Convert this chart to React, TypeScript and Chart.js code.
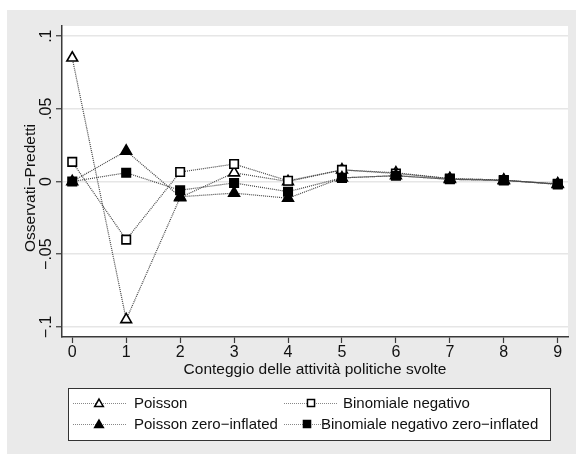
import React, { useEffect, useRef } from 'react';
import { Chart, registerables } from 'chart.js';

Chart.register(...registerables);

const counts = [0, 1, 2, 3, 4, 5, 6, 7, 8, 9];
const poisson = [0.085, -0.095, -0.011, 0.006, 0.0, 0.008, 0.006, 0.002, 0.001, -0.002];
const binNeg = [0.0135, -0.04, 0.0065, 0.012, 0.0005, 0.008, 0.0055, 0.002, 0.001, -0.002];
const poissonZI = [0.0, 0.021, -0.0105, -0.008, -0.0115, 0.0025, 0.004, 0.0015, 0.0007, -0.0016];
const binNegZI = [0.0, 0.006, -0.006, -0.001, -0.007, 0.0025, 0.004, 0.0015, 0.0007, -0.0016];

const seriesNames = ['Poisson', 'Binomiale negativo', 'Poisson zero\u2212inflated', 'Binomiale negativo zero\u2212inflated'];
const yTickValues = [-0.1, -0.05, 0, 0.05, 0.1];
const yTickLabels = ['\u2212.1', '\u2212.05', '0', '.05', '.1'];
const xTitle = 'Conteggio delle attivit\u00e0 politiche svolte';
const yTitle = 'Osservati\u2212Predetti';

const FONT = '"Liberation Sans", Arial, Helvetica, sans-serif';
const TEXT = '#111111';
const LINE = '#444444';
const AXIS = '#3a3a3a';

function drawMarker(ctx: CanvasRenderingContext2D, kind: string, filled: boolean, x: number, y: number, r: number) {
  ctx.save();
  ctx.beginPath();
  if (kind === 'triangle') {
    const h = 1.5 * r;
    const w = 0.866 * r;
    ctx.moveTo(x, y - r);
    ctx.lineTo(x + w, y + h - r);
    ctx.lineTo(x - w, y + h - r);
    ctx.closePath();
  } else {
    const s = r * Math.SQRT1_2;
    ctx.rect(x - s, y - s, 2 * s, 2 * s);
  }
  ctx.fillStyle = filled ? '#000' : '#fff';
  ctx.fill();
  ctx.lineWidth = 1.5;
  ctx.strokeStyle = '#000';
  ctx.stroke();
  ctx.restore();
}

const bgPlugin = {
  id: 'bgPlugin',
  beforeDraw(chart: any) {
    const { ctx, chartArea } = chart;
    ctx.save();
    ctx.fillStyle = '#ffffff';
    ctx.fillRect(0, 0, chart.width, chart.height);
    ctx.fillStyle = '#eaeaea';
    ctx.fillRect(7, 10, chart.width - 7, chart.height - 10);
    ctx.fillStyle = '#ffffff';
    ctx.fillRect(chartArea.left, chartArea.top, chartArea.right - chartArea.left, chartArea.bottom - chartArea.top);
    ctx.restore();
  },
  afterDraw(chart: any) {
    const { ctx, chartArea } = chart;
    const ys = chart.scales.y;
    const xs = chart.scales.x;
    ctx.save();
    ctx.fillStyle = TEXT;
    // y tick labels (rotated)
    ctx.font = `16px ${FONT}`;
    ctx.textAlign = 'center';
    ctx.textBaseline = 'middle';
    yTickValues.forEach((v, i) => {
      const py = ys.getPixelForValue(v);
      ctx.save();
      ctx.translate(47, py);
      ctx.rotate(-Math.PI / 2);
      ctx.fillText(yTickLabels[i], 0, 0);
      ctx.restore();
    });
    // x tick labels
    counts.forEach((c) => {
      ctx.fillText(String(c), xs.getPixelForValue(c), 353);
    });
    // titles
    ctx.font = `15.5px ${FONT}`;
    ctx.fillText(xTitle, (chartArea.left + chartArea.right) / 2, 370);
    ctx.save();
    ctx.translate(31, 188);
    ctx.rotate(-Math.PI / 2);
    ctx.fillText(yTitle, 0, 0);
    ctx.restore();

    // legend
    ctx.fillStyle = '#ffffff';
    ctx.fillRect(68, 388, 482, 52);
    ctx.strokeStyle = '#333';
    ctx.lineWidth = 1;
    ctx.strokeRect(68.5, 388.5, 482, 52);
    const entries = [
      { x0: 73, x1: 126, mx: 99, tx: 134, y: 403, kind: 'triangle', filled: false, r: 5 },
      { x0: 284, x1: 338, mx: 311, tx: 343, y: 403, kind: 'rect', filled: false, r: 5 },
      { x0: 73, x1: 126, mx: 99, tx: 134, y: 424, kind: 'triangle', filled: true, r: 5 },
      { x0: 284, x1: 330, mx: 307, tx: 321, y: 424, kind: 'rect', filled: true, r: 5 },
    ];
    entries.forEach((e) => {
      ctx.save();
      ctx.strokeStyle = '#888';
      ctx.lineWidth = 1;
      ctx.setLineDash([1, 1]);
      ctx.beginPath();
      ctx.moveTo(e.x0, e.y + 0.5);
      ctx.lineTo(e.x1, e.y + 0.5);
      ctx.stroke();
      ctx.restore();
      drawMarker(ctx, e.kind, e.filled, e.mx, e.kind === 'triangle' ? e.y + 1 : e.y, e.r);
    });
    ctx.fillStyle = TEXT;
    ctx.font = `15px ${FONT}`;
    ctx.textAlign = 'left';
    ctx.textBaseline = 'middle';
    entries.forEach((e, i) => {
      ctx.fillText(seriesNames[i], e.tx, e.y + 1);
    });
    ctx.restore();
  },
};

export default function App() {
  const ref = useRef<HTMLCanvasElement | null>(null);
  useEffect(() => {
    if (!ref.current) return;
    const mk = (vals: number[]) => counts.map((c, i) => ({ x: c, y: vals[i] }));
    const base = {
      borderColor: LINE,
      borderWidth: 1.2,
      borderDash: [1, 1],
      showLine: true,
      tension: 0,
      pointBorderColor: '#000',
      pointBorderWidth: 1.6,
      pointHoverRadius: 6,
    };
    const chart = new Chart(ref.current, {
      type: 'scatter',
      data: {
        datasets: [
          { ...base, label: seriesNames[0], data: mk(poisson), pointStyle: 'triangle', pointRadius: 6.2, pointBackgroundColor: '#fff', order: 3 },
          { ...base, label: seriesNames[1], data: mk(binNeg), pointStyle: 'rect', pointRadius: 6, pointBackgroundColor: '#fff', order: 2 },
          { ...base, label: seriesNames[2], data: mk(poissonZI), pointStyle: 'triangle', pointRadius: 6.2, pointBackgroundColor: '#000', order: 1 },
          { ...base, label: seriesNames[3], data: mk(binNegZI), pointStyle: 'rect', pointRadius: 6, pointBackgroundColor: '#000', order: 0 },
        ] as any,
      },
      options: {
        animation: false,
        responsive: false,
        devicePixelRatio: 1,
        layout: { padding: { top: 26, right: 8, left: 0, bottom: 0 } },
        plugins: { legend: { display: false }, tooltip: { enabled: false } },
        scales: {
          x: {
            type: 'linear',
            min: -0.19,
            max: 9.19,
            afterBuildTicks: (s: any) => { s.ticks = counts.map((v) => ({ value: v })); },
            afterFit: (s: any) => { s.height = 117; },
            ticks: { display: false },
            grid: { display: true, drawOnChartArea: false, drawTicks: true, tickLength: 6, tickColor: AXIS, tickWidth: 1.2 },
            border: { display: true, color: AXIS, width: 1.5 },
          },
          y: {
            type: 'linear',
            min: -0.107,
            max: 0.107,
            afterBuildTicks: (s: any) => { s.ticks = yTickValues.map((v) => ({ value: v })); },
            afterFit: (s: any) => { s.width = 62; },
            ticks: { display: false },
            grid: { display: true, drawOnChartArea: true, color: '#e6e6e6', lineWidth: 1.5, drawTicks: true, tickLength: 6, tickColor: AXIS, tickWidth: 1.2 },
            border: { display: true, color: AXIS, width: 1.5 },
          },
        },
      },
      plugins: [bgPlugin],
    } as any);
    return () => chart.destroy();
  }, []);
  return (
    <div style={{ position: 'absolute', left: 0, top: 0, width: 576, height: 454 }}>
      <canvas ref={ref} width={576} height={454} style={{ display: 'block', width: 576, height: 454 }} />
    </div>
  );
}
